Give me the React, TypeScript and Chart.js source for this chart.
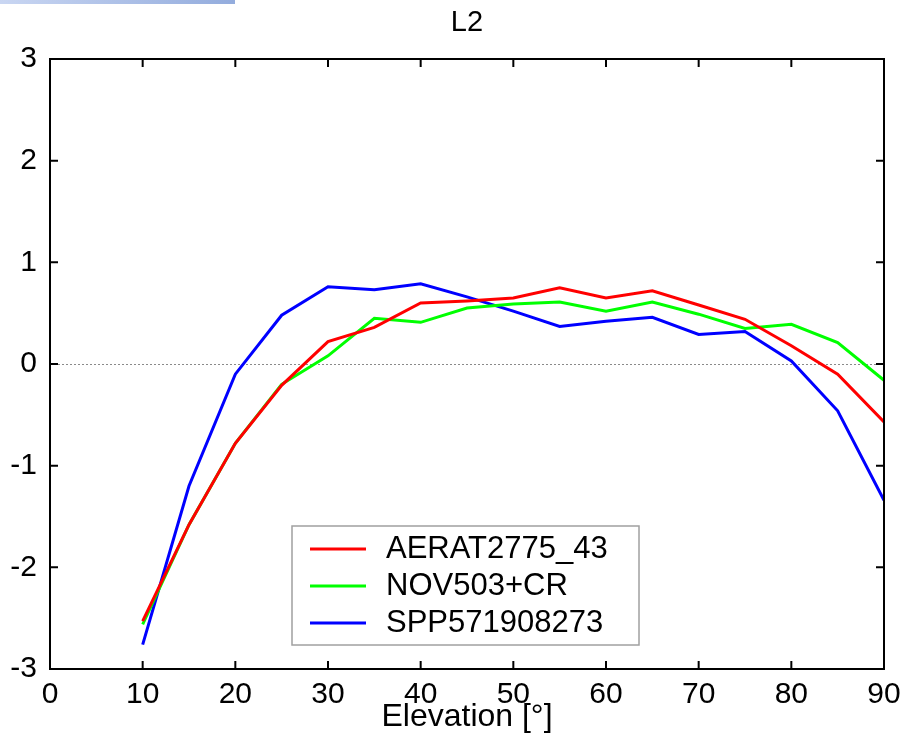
import React, { useEffect, useRef } from "react";
import { Chart, registerables } from "chart.js";

Chart.register(...registerables);

const elevations = [10, 15, 20, 25, 30, 35, 40, 45, 50, 55, 60, 65, 70, 75, 80, 85, 90];
const aerat = [-2.53, -1.58, -0.78, -0.21, 0.22, 0.36, 0.6, 0.62, 0.65, 0.75, 0.65, 0.72, 0.58, 0.44, 0.18, -0.1, -0.57];
const nov = [-2.56, -1.58, -0.78, -0.2, 0.08, 0.45, 0.41, 0.55, 0.59, 0.61, 0.52, 0.61, 0.49, 0.35, 0.39, 0.21, -0.16];
const spp = [-2.76, -1.2, -0.1, 0.48, 0.76, 0.73, 0.79, 0.66, 0.52, 0.37, 0.42, 0.46, 0.29, 0.32, 0.03, -0.46, -1.34];
const seriesNames = ["AERAT2775_43", "NOV503+CR", "SPP571908273"];
const seriesColors = ["#ff0000", "#00ff00", "#0000ff"];
const chartTitle = "L2";
const xTitle = "Elevation [°]";

const FONT = "'Liberation Sans', Arial, Helvetica, sans-serif";

const framePlugin = {
  id: "matlabFrame",
  beforeDatasetsDraw(chart: any) {
    const { ctx, chartArea } = chart;
    const y = chart.scales.y.getPixelForValue(0);
    ctx.save();
    ctx.strokeStyle = "#8a8a8a";
    ctx.lineWidth = 1;
    ctx.setLineDash([2, 2]);
    ctx.beginPath();
    ctx.moveTo(chartArea.left, Math.round(y) + 0.5);
    ctx.lineTo(chartArea.right, Math.round(y) + 0.5);
    ctx.stroke();
    ctx.restore();
  },
  afterDatasetsDraw(chart: any) {
    const { ctx, chartArea } = chart;
    const { left, right, top, bottom } = chartArea;
    const xs = chart.scales.x;
    const ys = chart.scales.y;
    const tl = 8;
    ctx.save();
    // title centred over the plot box
    ctx.fillStyle = "#000";
    ctx.font = `29px ${FONT}`;
    ctx.textAlign = "center";
    ctx.textBaseline = "middle";
    ctx.fillText(chartTitle, (left + right) / 2, top - 36);

    ctx.strokeStyle = "#000";
    ctx.lineWidth = 2;
    ctx.beginPath();
    xs.ticks.forEach((t: any) => {
      const px = xs.getPixelForValue(t.value);
      if (Math.abs(px - left) < 1 || Math.abs(px - right) < 1) return;
      ctx.moveTo(px, bottom);
      ctx.lineTo(px, bottom - tl);
      ctx.moveTo(px, top);
      ctx.lineTo(px, top + tl);
    });
    ys.ticks.forEach((t: any) => {
      const py = ys.getPixelForValue(t.value);
      if (Math.abs(py - top) < 1 || Math.abs(py - bottom) < 1) return;
      ctx.moveTo(left, py);
      ctx.lineTo(left + tl, py);
      ctx.moveTo(right, py);
      ctx.lineTo(right - tl, py);
    });
    ctx.stroke();
    ctx.strokeRect(left, top, right - left, bottom - top);

    // legend
    const bx = left + 242;
    const by = top + 467;
    const bw = 347;
    const bh = 119;
    ctx.fillStyle = "#fff";
    ctx.fillRect(bx, by, bw, bh);
    ctx.strokeStyle = "#a0a0a0";
    ctx.lineWidth = 1.5;
    ctx.strokeRect(bx, by, bw, bh);
    ctx.font = `31px ${FONT}`;
    ctx.textBaseline = "middle";
    ctx.textAlign = "left";
    chart.data.datasets.forEach((ds: any, i: number) => {
      const ry = by + 23 + i * 37;
      ctx.strokeStyle = ds.borderColor;
      ctx.lineWidth = 3;
      ctx.beginPath();
      ctx.moveTo(bx + 18, ry);
      ctx.lineTo(bx + 74, ry);
      ctx.stroke();
      ctx.fillStyle = "#000";
      ctx.fillText(ds.label, bx + 94, ry);
    });
    ctx.restore();
  },
};

export default function App() {
  const ref = useRef<HTMLCanvasElement>(null);
  useEffect(() => {
    if (!ref.current) return;
    const series = [aerat, nov, spp];
    const chart = new Chart(ref.current, {
      type: "line",
      data: {
        datasets: series.map((vals, i) => ({
          label: seriesNames[i],
          data: elevations.map((x, j) => ({ x, y: vals[j] })),
          borderColor: seriesColors[i],
          backgroundColor: seriesColors[i],
          borderWidth: 3,
          pointRadius: 0,
          tension: 0,
          fill: false,
        })),
      },
      options: {
        animation: false,
        responsive: false,
        layout: { padding: { left: 0, right: 34, top: 59, bottom: 0 } },
        plugins: {
          legend: { display: false },
          tooltip: { enabled: false },
          title: { display: false },
        },
        scales: {
          x: {
            type: "linear",
            min: 0,
            max: 90,
            grid: { display: false },
            border: { display: false },
            ticks: {
              stepSize: 10,
              color: "#000",
              padding: 0,
              maxRotation: 0,
              font: { family: FONT, size: 30, lineHeight: 1.2 },
            },
            title: {
              display: true,
              text: xTitle,
              color: "#000",
              font: { family: FONT, size: 32, lineHeight: 1.2 },
              padding: { top: 0, bottom: 7 },
            },
            afterFit: (s: any) => {
              s.height = 74;
            },
          },
          y: {
            type: "linear",
            min: -3,
            max: 3,
            grid: { display: false },
            border: { display: false },
            ticks: {
              stepSize: 1,
              color: "#000",
              padding: 5,
              font: { family: FONT, size: 30, lineHeight: 1.2 },
            },
            afterFit: (s: any) => {
              s.width = 50;
            },
          },
        },
      },
      plugins: [framePlugin],
    });
    return () => chart.destroy();
  }, []);

  return (
    <div style={{ position: "absolute", left: 0, top: 0, width: 918, height: 743, background: "#fff" }}>
      <div
        style={{
          position: "absolute",
          left: 0,
          top: 0,
          width: 235,
          height: 4,
          background: "linear-gradient(to right, #c9d6f2, #93acdd)",
        }}
      />
      <canvas ref={ref} width={918} height={743} style={{ display: "block" }} />
    </div>
  );
}
